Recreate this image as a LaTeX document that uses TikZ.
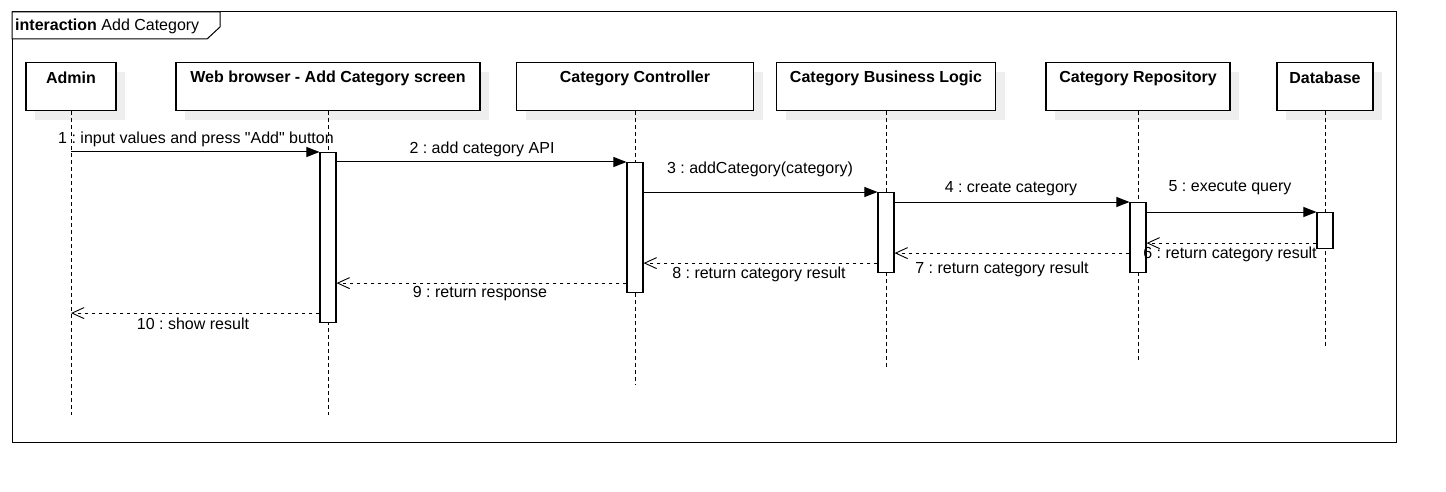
\documentclass[tikz,border=0pt]{standalone}
\usepackage{fontspec}
\setmainfont{Liberation Sans}[Ligatures=TeXOff]
\usetikzlibrary{arrows.meta,shadows}
\frenchspacing
\begin{document}
\begin{tikzpicture}[x=1pt,y=-1pt,
  every node/.style={font=\fontsize{16}{19}\selectfont},
  part/.style={draw,line width=1.1pt,fill=white,minimum height=48pt,inner sep=0pt,anchor=north,
    drop shadow={shadow xshift=9pt,shadow yshift=-9pt,fill=gray!13,opacity=1}},
  ptitle/.style={font=\fontsize{16}{19}\selectfont\bfseries,inner sep=0pt},
  life/.style={line width=0.9pt,dash pattern=on 3.5pt off 3.5pt},
  actbar/.style={draw,line width=1.1pt,fill=white,minimum width=16pt,inner sep=0pt,anchor=north},
  sync/.style={line width=1pt,-{Triangle[length=13pt,width=10pt]}},
  reply/.style={line width=0.9pt,dash pattern=on 3.5pt off 3.5pt,-{Straight Barb[length=12pt,width=11pt,line width=0.9pt]}},
  msg/.style={inner sep=0pt}
]
\useasboundingbox (0,0) rectangle (1446,492);
% frame
\draw[line width=1pt] (12,12) rectangle (1396,442);
\draw[line width=1pt,fill=white] (12,12) -- (220,12) -- (220,27) -- (207,39) -- (12,39) -- cycle;
\node[anchor=west,inner sep=0pt] (frametitle) at (15,26) {\textbf{interaction} Add Category};
% participants
\node[part,minimum width=90pt] (admin) at (71,62) {};
\node[part,minimum width=304pt] (web) at (328,62) {};
\node[part,minimum width=237pt] (ctrl) at (635,62) {};
\node[part,minimum width=219pt] (bl) at (886,62) {};
\node[part,minimum width=184pt] (repo) at (1138,62) {};
\node[part,minimum width=96pt] (db) at (1325,62) {};
\node[ptitle] (admint) at (71,78) {Admin};
\node[ptitle] (webt) at (328,78) {Web browser - Add Category screen};
\node[ptitle] (ctrlt) at (635,78) {Category Controller};
\node[ptitle] (blt) at (886,78) {Category Business Logic};
\node[ptitle] (repot) at (1138,78) {Category Repository};
\node[ptitle] (dbt) at (1325,78) {Database};
% lifeline ends
\coordinate (adminend) at (71,415);
\coordinate (webend) at (328,415);
\coordinate (ctrlend) at (635,385);
\coordinate (blend) at (886,370);
\coordinate (repoend) at (1138,363);
\coordinate (dbend) at (1325,348);
\draw[life] (admin.south) -- (adminend);
\draw[life] (web.south) -- (webend);
\draw[life] (ctrl.south) -- (ctrlend);
\draw[life] (bl.south) -- (blend);
\draw[life] (repo.south) -- (repoend);
\draw[life] (db.south) -- (dbend);
% activation bars
\node[actbar,minimum height=170pt] (webbar) at (328,152) {};
\node[actbar,minimum height=130pt] (ctrlbar) at (635,162) {};
\node[actbar,minimum height=80pt] (blbar) at (886,192) {};
\node[actbar,minimum height=70pt] (repobar) at (1138,202) {};
\node[actbar,minimum height=36pt] (dbbar) at (1325,212) {};
% calls
\draw[sync] (admin |- webbar.north west) -- (webbar.north west);
\draw[sync] (webbar.east |- ctrlbar.north) -- (ctrlbar.north west);
\draw[sync] (ctrlbar.east |- blbar.north) -- (blbar.north west);
\draw[sync] (blbar.east |- repobar.north) -- (repobar.north west);
\draw[sync] (repobar.east |- dbbar.north) -- (dbbar.north west);
% reply start points
\coordinate (r6) at ([yshift=6pt]dbbar.south west);
\coordinate (r7) at ([yshift=20pt]repobar.south west);
\coordinate (r8) at ([yshift=10pt]blbar.south west);
\coordinate (r9) at ([yshift=10pt]ctrlbar.south west);
\coordinate (r10) at ([yshift=10pt]webbar.south west);
% replies
\draw[reply] (r6) -- (repobar.east |- r6);
\draw[reply] (r7) -- (blbar.east |- r7);
\draw[reply] (r8) -- (ctrlbar.east |- r8);
\draw[reply] (r9) -- (webbar.east |- r9);
\draw[reply] (r10) -- (admin |- r10);
% labels
\node[msg] (l1) at (196,139) {1 : input values and press "Add" button};
\node[msg] (l2) at (482,149) {2 : add category API};
\node[msg] (l3) at (760,169) {3 : addCategory(category)};
\node[msg] (l4) at (1011,189) {4 : create category};
\node[msg] (l5) at (1230,188) {5 : execute query};
\node[msg] (l6) at (1230,254) {6 : return category result};
\node[msg] (l7) at (1002,269) {7 : return category result};
\node[msg] (l8) at (759,274) {8 : return category result};
\node[msg] (l9) at (480,294) {9 : return response};
\node[msg] (l10) at (193,324) {10 : show result};
\end{tikzpicture}
\end{document}
